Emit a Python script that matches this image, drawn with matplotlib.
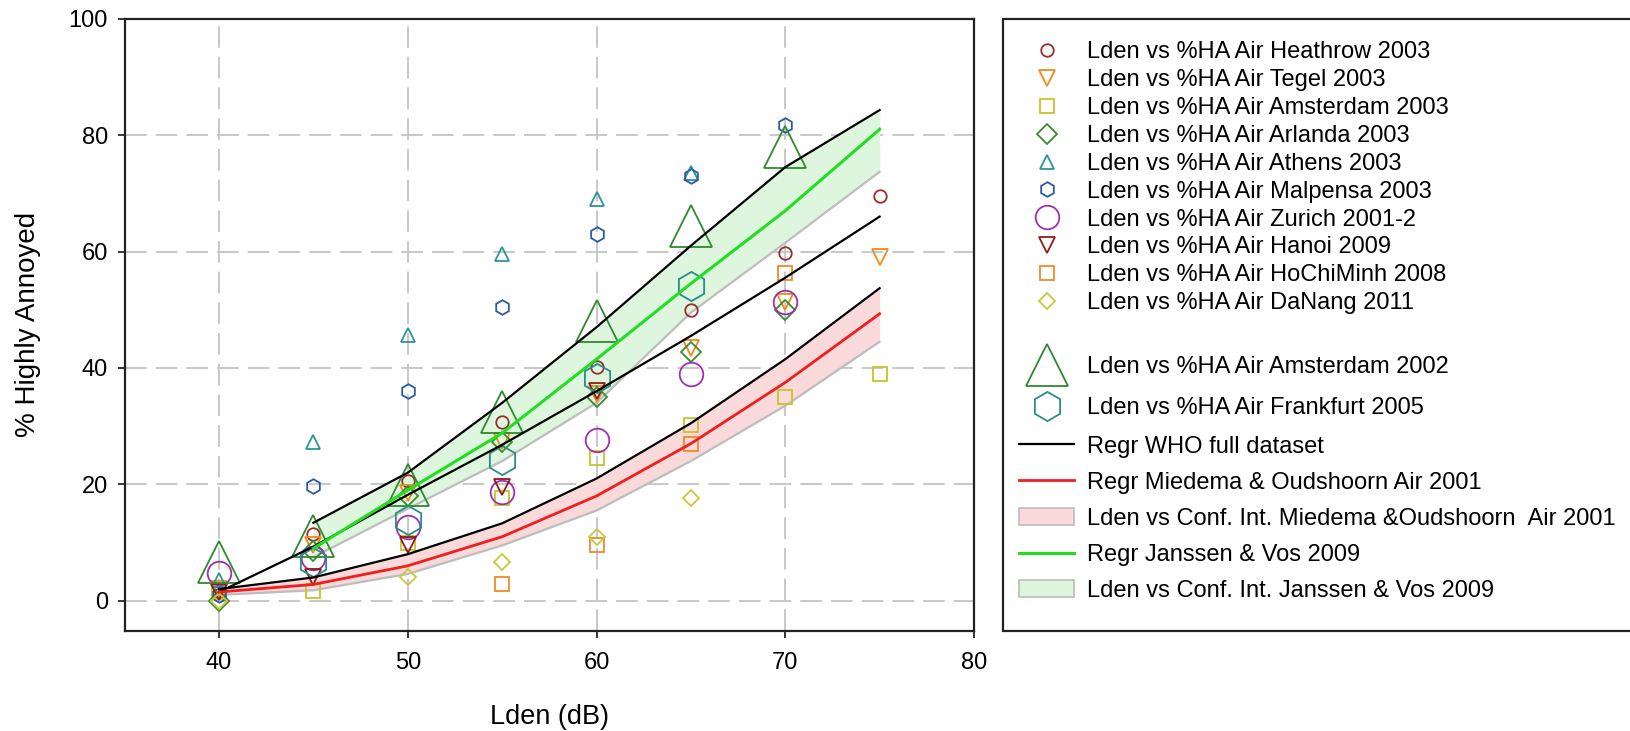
import matplotlib
matplotlib.use("Agg")
import matplotlib.pyplot as plt
from matplotlib.patches import Patch, Rectangle

plt.rcParams['font.family'] = ['Liberation Sans', 'DejaVu Sans']

# ---------------- data ----------------
heathrow_x = [40, 45, 50, 55, 60, 65, 70, 75]
heathrow_y = [1.5, 11.5, 20.5, 30.7, 40.2, 50.0, 59.7, 69.5]
tegel_x = [40, 45, 50, 55, 60, 65, 70, 75]
tegel_y = [2.0, 9.5, 18.5, 27.5, 35.5, 43.4, 51.4, 59.0]
ams03_x = [40, 45, 50, 55, 60, 65, 70, 75]
ams03_y = [1.5, 1.6, 10.0, 17.7, 24.5, 30.2, 35.0, 39.0]
arlanda_x = [40, 45, 50, 55, 60, 65, 70]
arlanda_y = [0.0, 8.5, 18.0, 27.3, 35.0, 42.8, 50.0]
athens_x = [40, 45, 50, 55, 60, 65]
athens_y = [3.5, 27.3, 45.7, 59.5, 69.0, 73.5]
malpensa_x = [40, 45, 50, 55, 60, 65, 70]
malpensa_y = [1.0, 19.7, 36.0, 50.5, 63.0, 73.0, 81.7]
zurich_x = [40, 45, 50, 55, 60, 65, 70]
zurich_y = [4.8, 7.3, 12.7, 18.7, 27.7, 39.0, 51.4]
hanoi_x = [40, 45, 50, 55, 60]
hanoi_y = [1.5, 4.0, 9.6, 19.6, 36.0]
hcm_x = [55, 60, 65, 70]
hcm_y = [2.8, 9.5, 27.0, 56.3]
danang_x = [40, 50, 55, 60, 65]
danang_y = [0.0, 4.1, 6.7, 11.0, 17.6]
ams02_x = [40, 45, 50, 55, 60, 65, 70]
ams02_y = [6.7, 11.2, 19.9, 32.4, 48.1, 64.3, 78.0]
frankfurt_x = [45, 50, 55, 60, 65]
frankfurt_y = [6.7, 13.9, 24.2, 38.3, 54.0]

regr_x = [40, 45, 50, 55, 60, 65, 70, 75]
who_y = [1.5, 9.3, 18.2, 26.8, 36.0, 45.5, 55.5, 66.0]
miedema_y = [1.5, 2.8, 6.0, 11.0, 18.0, 27.0, 37.5, 49.3]
miedema_hi = [2.0, 4.0, 8.0, 13.3, 21.0, 30.5, 41.5, 53.7]
miedema_lo = [1.0, 1.8, 4.6, 9.5, 15.5, 24.0, 33.5, 44.5]
janssen_x = [45, 50, 55, 60, 65, 70, 75]
janssen_y = [9.0, 19.0, 28.8, 41.5, 54.5, 67.0, 81.0]
janssen_hi = [13.4, 22.0, 34.0, 47.0, 61.0, 74.5, 84.3]
janssen_lo = [7.5, 15.8, 24.0, 34.0, 49.5, 61.5, 73.7]

x_ticks = [40, 50, 60, 70, 80]
y_ticks = [0, 20, 40, 60, 80, 100]

labels_pts = ["Lden vs %HA Air Heathrow 2003", "Lden vs %HA Air Tegel 2003",
              "Lden vs %HA Air Amsterdam 2003", "Lden vs %HA Air Arlanda 2003",
              "Lden vs %HA Air Athens 2003", "Lden vs %HA Air Malpensa 2003",
              "Lden vs %HA Air Zurich 2001-2", "Lden vs %HA Air Hanoi 2009",
              "Lden vs %HA Air HoChiMinh 2008", "Lden vs %HA Air DaNang 2011",
              "Lden vs %HA Air Amsterdam 2002", "Lden vs %HA Air Frankfurt 2005"]
labels_lines = ["Regr WHO full dataset", "Regr Miedema & Oudshoorn Air 2001",
                "Lden vs Conf. Int. Miedema &Oudshoorn  Air 2001",
                "Regr Janssen & Vos 2009", "Lden vs Conf. Int. Janssen & Vos 2009"]

# ---------------- figure ----------------
W, H = 1630, 731
fig = plt.figure(figsize=(W / 100, H / 100), dpi=100)
ax_l, ax_r, ax_t, ax_b = 124.7, 974.0, 18.7, 631.0
ax = fig.add_axes([ax_l / W, 1 - ax_b / H, (ax_r - ax_l) / W, (ax_b - ax_t) / H])

ax.set_xlim(35, 80)
ax.set_ylim(-5.2, 100)
ax.set_xticks(x_ticks)
ax.set_yticks(y_ticks)
ax.grid(True, color='#C4C4C4', linewidth=1.3, linestyle=(0, (12, 5)))
ax.set_axisbelow(True)
for s in ax.spines.values():
    s.set_linewidth(1.6)
    s.set_color('#222222')
ax.tick_params(axis='both', direction='out', length=5, width=1.1, labelsize=17)
ax.tick_params(axis='x', pad=10)
ax.tick_params(axis='y', pad=7)
ax.set_xlabel("Lden (dB)", fontsize=19.5, labelpad=22)
ax.set_ylabel("% Highly Annoyed", fontsize=20, labelpad=20)

# confidence bands
ax.fill_between(regr_x, miedema_lo, miedema_hi, color='#F9D9D9', linewidth=0, zorder=1)
ax.fill_between(janssen_x, janssen_lo, janssen_hi, color='#DDF6DD', linewidth=0, zorder=1)
ax.plot(regr_x, miedema_lo, color='#BDBDBD', lw=1.6, zorder=2)
ax.plot(janssen_x, janssen_lo, color='#BDBDBD', lw=1.6, zorder=2)

# scatter series (open markers)
styles = [
    (heathrow_x, heathrow_y, 'o', '#9A2E2E', 9),
    (tegel_x, tegel_y, 'v', '#F08A1C', 12),
    (ams03_x, ams03_y, 's', '#C8C42A', 10.5),
    (arlanda_x, arlanda_y, 'D', '#3A8C2C', 10.5),
    (athens_x, athens_y, '^', '#2A9696', 10),
    (malpensa_x, malpensa_y, 'h', '#2A5AA0', 10.5),
    (zurich_x, zurich_y, 'o', '#A030B0', 17),
    (hanoi_x, hanoi_y, 'v', '#8E1C1C', 12),
    (hcm_x, hcm_y, 's', '#F08A2A', 10.5),
    (danang_x, danang_y, 'D', '#C8C83C', 8),
    (ams02_x, ams02_y, '^', '#2E8A2E', 30),
    (frankfurt_x, frankfurt_y, 'h', '#2A8C8C', 21),
]
pt_handles = []
for (xs, ys, mk, col, ms) in styles:
    h, = ax.plot(xs, ys, linestyle='none', marker=mk, markersize=ms,
                 markerfacecolor='none', markeredgecolor=col, markeredgewidth=1.3,
                 zorder=3)
    pt_handles.append(h)

# regression lines
ax.plot(regr_x, miedema_hi, color='black', lw=1.6, zorder=4)
ax.plot(janssen_x, janssen_hi, color='black', lw=1.6, zorder=4)
h_who, = ax.plot(regr_x, who_y, color='black', lw=1.6, zorder=4)
h_mie, = ax.plot(regr_x, miedema_y, color='#F01E1E', lw=2.0, zorder=5)
h_jan, = ax.plot(janssen_x, janssen_y, color='#22DD22', lw=2.2, zorder=5)
p_mie = Patch(facecolor='#F9D9D9', edgecolor='#BDBDBD', linewidth=1.2)
p_jan = Patch(facecolor='#DDF6DD', edgecolor='#BDBDBD', linewidth=1.2)

# ---------------- legend (frame + three groups) ----------------
box_l, box_t, box_b = 1003, 19, 631
fig.patches.append(Rectangle((box_l / W, 1 - box_b / H), (W + 20 - box_l) / W,
                             (box_b - box_t) / H, transform=fig.transFigure,
                             facecolor='white', edgecolor='#222222', linewidth=1.6,
                             zorder=0))
leg_fs = 17
em = leg_fs * 100 / 72
handle_left = 1019
common = dict(loc='center left', frameon=False, borderpad=0, borderaxespad=0,
              handlelength=55 / em, handletextpad=13 / em, numpoints=1,
              fontsize=leg_fs, handleheight=0.7)
groups = [
    (pt_handles[:10], labels_pts[:10], 48.9, 306.7, 10),
    (pt_handles[10:], labels_pts[10:], 367.0, 408.5, 2),
    ([h_who, h_mie, p_mie, h_jan, p_jan], labels_lines, 445.0, 592.5, 5),
]
text_h = 0.965 * em
for hs, ls, y1, y2, n in groups:
    pitch = (y2 - y1) / (n - 1)
    spacing = (pitch - text_h) / em
    yc = (y1 + y2) / 2
    fig.legend(hs, ls, bbox_to_anchor=(handle_left / W, 1 - yc / H),
               labelspacing=spacing, **common)

fig.savefig("out.png", dpi=100)
